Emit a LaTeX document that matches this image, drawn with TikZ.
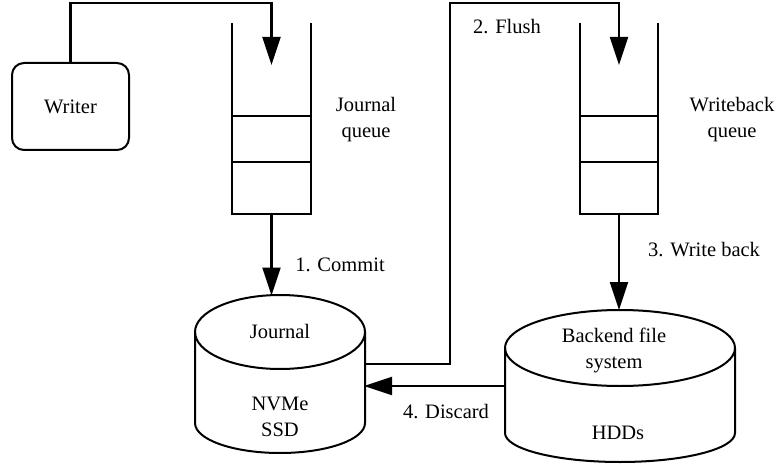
\documentclass[tikz,border=0pt]{standalone}
\usepackage{fontspec}
\setmainfont{Liberation Serif}
\usetikzlibrary{arrows.meta}
\begin{document}
\begin{tikzpicture}[x=1pt,y=-1pt,
  line width=2pt,
  lbl/.style={font=\fontsize{20.5}{26}\selectfont, align=center, inner sep=0pt},
  conn/.style={line width=2.2pt},
  arr/.style={conn, -{Triangle[length=28pt,width=18pt]}},
  queuebox/.style={minimum width=#1, minimum height=191pt, inner sep=0pt, outer sep=0pt},
  procbox/.style={draw, rounded corners=12pt, minimum width=117pt, minimum height=87pt, lbl}]
\useasboundingbox (0,0) rectangle (776,465);

% writer process
\node[procbox] (writer) at (70.5,106.5) {Writer};

% journal queue
\node[queuebox=79pt] (jq) at (271.5,118.5) {};
\draw (jq.north west) -- (jq.south west) -- (jq.south east) -- (jq.north east);
\draw (jq.west |- 0,116) -- (jq.east |- 0,116);
\draw (jq.west |- 0,162) -- (jq.east |- 0,162);
\node[lbl] (jqlabel) at (366,120) {Journal\\queue};

% writeback queue
\node[queuebox=78pt] (wq) at (619,118.5) {};
\draw (wq.north west) -- (wq.south west) -- (wq.south east) -- (wq.north east);
\draw (wq.west |- 0,116) -- (wq.east |- 0,116);
\draw (wq.west |- 0,162) -- (wq.east |- 0,162);
\node[lbl] (wqlabel) at (732,120) {Writeback\\queue};

% journal disk (NVMe SSD)
\draw (195,332) arc[start angle=180, end angle=-180, x radius=85, y radius=37];
\draw (195,332) -- (195,423) arc[start angle=180, end angle=0, x radius=85, y radius=30] -- (365,332);
\node[lbl] (jname) at (280,331) {Journal};
\node[lbl] (jdev) at (280,417) {NVMe\\SSD};

% backend disk (HDDs)
\draw (505,348) arc[start angle=180, end angle=-180, x radius=115, y radius=38];
\draw (505,348) -- (505,433) arc[start angle=180, end angle=0, x radius=115, y radius=29] -- (735,348);
\node[lbl] (bname) at (614,350) {Backend file\\system};
\node[lbl] (bdev) at (618,433) {HDDs};

% connector end points
\coordinate (jqin) at (271.5,65);
\coordinate (wqin) at (619,65);
\coordinate (jtop) at (271.5,295.5);
\coordinate (btop) at (619,310);
\coordinate (jflush) at (365,364);
\coordinate (jright) at (364,386);
\coordinate (bleft) at (505,386);

% connectors
\draw[arr] (writer.north) -- (70.5,3) -| (jqin);
\draw[arr] (jq.south) -- (jtop);
\draw[arr] (jflush) -- (450,364) -- (450,3) -| (wqin);
\draw[arr] (wq.south) -- (btop);
\draw[arr] (bleft) -- (jright);

% step labels
\node[lbl] (commit) at (340,265) {1. Commit};
\node[lbl] (flush) at (507,27) {2. Flush};
\node[lbl] (wback) at (704,250) {3. Write back};
\node[lbl] (discard) at (446,412) {4. Discard};
\end{tikzpicture}
\end{document}
